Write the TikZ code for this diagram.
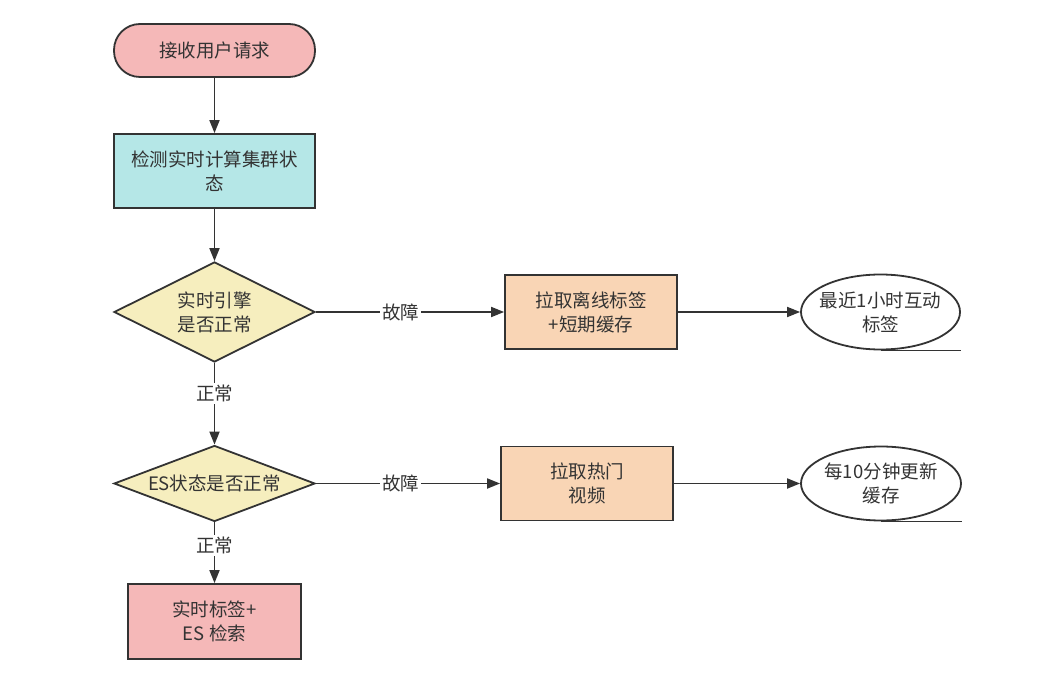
\documentclass[tikz,border=0pt]{standalone}
\usepackage{fontspec}
\setmainfont{Noto Sans CJK SC}
\usetikzlibrary{shapes.geometric,arrows.meta}
\definecolor{ink}{HTML}{333333}
\definecolor{pinkf}{HTML}{F5B8B8}
\definecolor{cyanf}{HTML}{B5E7E7}
\definecolor{yelf}{HTML}{F6EEBE}
\definecolor{orgf}{HTML}{F9D5B5}
\tikzset{
  base/.style={draw=ink, line width=1.8pt, text=ink, inner sep=0pt, align=center,
    font=\fontsize{18.5}{24}\selectfont},
  term/.style={base, fill=pinkf, rounded corners=26pt, minimum width=201pt, minimum height=53pt},
  proc/.style={base, minimum width=172pt, minimum height=74pt},
  dec/.style={base, diamond, fill=yelf, minimum width=201pt},
  store/.style={base, ellipse, fill=white, inner xsep=-10pt, inner ysep=0pt},
  conn/.style={draw=ink, line width=1.8pt, -{Triangle[length=13pt,width=10pt]}},
  line/.style={draw=ink, line width=1.8pt},
  lab/.style={fill=white, text=ink, inner sep=2pt, font=\fontsize{18.5}{24}\selectfont}
}
\begin{document}
\begin{tikzpicture}[x=1pt,y=-1pt]
\useasboundingbox (0,0) rectangle (1051,684);
\node[term] (start) at (214.5,50.5) {接收用户请求};
\node[proc, fill=cyanf, minimum width=201pt] (check) at (214.5,171) {检测实时计算集群状\\态};
\node[dec, aspect=2, minimum height=100pt] (d1) at (214.5,312) {实时引擎\\是否正常};
\node[dec, aspect=2.65, minimum height=76pt] (d2) at (214.5,483.5) {ES状态是否正常};
\node[proc, fill=pinkf, minimum width=173pt, minimum height=75pt] (final) at (214.5,621.5) {实时标签+\\ES 检索};
\node[proc, fill=orgf] (off) at (591,312) {拉取离线标签\\+短期缓存};
\node[proc, fill=orgf] (hot) at (587,483.5) {拉取热门\\视频};
\node[store, minimum width=159pt, minimum height=75pt] (e1) at (880.5,312) {最近1小时互动\\标签};
\node[store, minimum width=160pt, minimum height=74pt] (e2) at (881,483.5) {每10分钟更新\\缓存};

\draw[line] (e1.south) -- (e1.south -| e1.east);
\draw[line] (e2.south) -- (e2.south -| e2.east);

\draw[conn] (start) -- (check);
\draw[conn] (check) -- (d1);
\draw[conn] (d1) -- node[lab, pos=0.37] {正常} (d2);
\draw[conn] (d2) -- node[lab, pos=0.38] {正常} (final);
\draw[conn] (d1) -- node[lab, pos=0.45] {故障} (off);
\draw[conn] (d2) -- node[lab, pos=0.46] {故障} (hot);
\draw[conn] (off) -- (e1);
\draw[conn] (hot) -- (e2);
\end{tikzpicture}
\end{document}
